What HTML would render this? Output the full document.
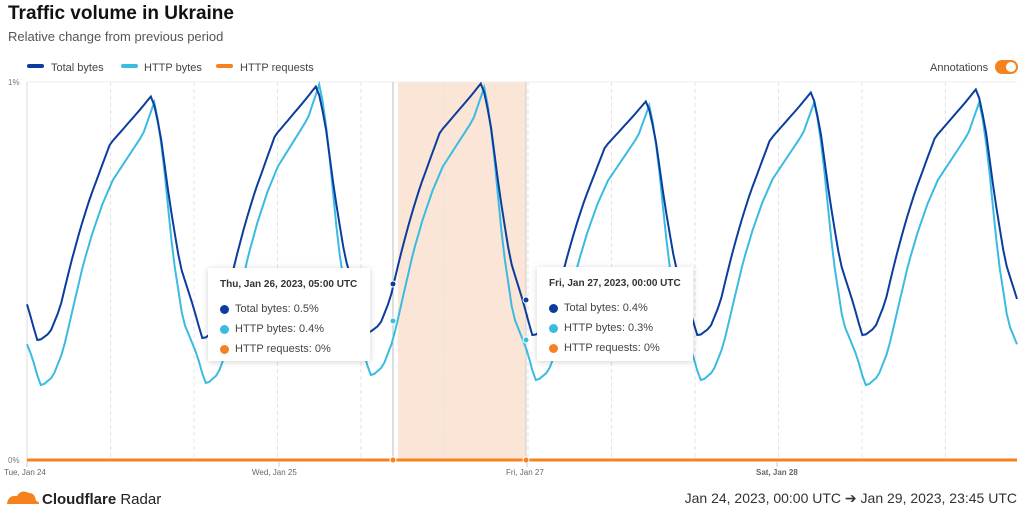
<!DOCTYPE html>
<html><head><meta charset="utf-8"><style>
body{margin:0;width:1024px;height:514px;background:#fff;font-family:"Liberation Sans",sans-serif;overflow:hidden;position:relative}
.t{position:absolute;left:8px;top:3px;font-size:19px;font-weight:bold;color:#111}
.s{position:absolute;left:8px;top:29px;font-size:13px;color:#555}
.tt{position:absolute;background:#fff;box-shadow:0 1px 6px rgba(0,0,0,.18);font-size:11px;color:#444;padding:0 12px}
.tt b{display:block;margin:11px 0 9px;font-size:10px;color:#333}
.tt div{height:20px;display:flex;align-items:center}
.tt i{display:inline-block;width:9px;height:9px;border-radius:50%;margin-right:6px}
</style></head><body>
<div class="t">Traffic volume in Ukraine</div>
<div class="s">Relative change from previous period</div>
<svg width="1024" height="514" style="position:absolute;left:0;top:0" id="s" font-family="Liberation Sans, sans-serif">
<g font-size="11" fill="#444">
<rect x="27" y="64" width="17" height="4" rx="2" fill="#0a3d9e"/><text x="51" y="71">Total bytes</text>
<rect x="121" y="64" width="17" height="4" rx="2" fill="#3bbbe0"/><text x="144" y="71">HTTP bytes</text>
<rect x="216" y="64" width="17" height="4" rx="2" fill="#f6821f"/><text x="240" y="71">HTTP requests</text>
<text x="930" y="71">Annotations</text>
<rect x="995" y="60" width="23" height="14" rx="7" fill="#f6821f"/><circle cx="1011" cy="67" r="5" fill="#fff"/>
</g>
<text x="8" y="85" font-size="8" fill="#777">1%</text>
<text x="8" y="463" font-size="8" fill="#777">0%</text>
<rect x="398" y="82" width="128" height="378" fill="#fbe5d7"/>
<g id="grid" stroke="#e3e3e3" stroke-dasharray="4,3"></g>
<line x1="27" y1="82" x2="1017" y2="82" stroke="#eee"/>
<line x1="27" y1="82" x2="27" y2="462" stroke="#ddd"/>
<line x1="393" y1="82" x2="393" y2="462" stroke="#bbb"/>
<line x1="526" y1="82" x2="526" y2="462" stroke="#ccc"/>
<g id="lines"></g>
<line x1="27" y1="460" x2="1017" y2="460" stroke="#f6821f" stroke-width="3"/>
<circle cx="393" cy="460" r="3" fill="#f6821f" stroke="#fff"/><circle cx="526" cy="460" r="3" fill="#f6821f" stroke="#fff"/>
<g font-size="8" fill="#666"><text x="4" y="475">Tue, Jan 24</text><text x="252" y="475">Wed, Jan 25</text><text x="506" y="475">Fri, Jan 27</text><text x="756" y="475" font-weight="bold">Sat, Jan 28</text></g>
<g stroke="#ccc"><line x1="27" y1="462" x2="27" y2="467"/><line x1="279" y1="462" x2="279" y2="467"/><line x1="527" y1="462" x2="527" y2="467"/><line x1="777" y1="462" x2="777" y2="467"/></g>
<path d="M7 504 q1-9 10-8 q4-7 12-3 q6 0 7 8 q3 0 3 3z" fill="#f6821f"/>
<text x="42" y="504" font-size="15" font-weight="bold" fill="#222">Cloudflare <tspan font-weight="normal">Radar</tspan></text>
<text x="1017" y="503" font-size="14" fill="#333" text-anchor="end">Jan 24, 2023, 00:00 UTC ➔ Jan 29, 2023, 23:45 UTC</text>
</svg>
<div class="tt" style="left:208px;top:268px;width:138px;height:93px"><b>Thu, Jan 26, 2023, 05:00 UTC</b><div><i style="background:#0a3d9e"></i>Total bytes: 0.5%</div><div><i style="background:#3bbbe0"></i>HTTP bytes: 0.4%</div><div><i style="background:#f6821f"></i>HTTP requests: 0%</div></div>
<div class="tt" style="left:537px;top:267px;width:132px;height:94px"><b>Fri, Jan 27, 2023, 00:00 UTC</b><div><i style="background:#0a3d9e"></i>Total bytes: 0.4%</div><div><i style="background:#3bbbe0"></i>HTTP bytes: 0.3%</div><div><i style="background:#f6821f"></i>HTTP requests: 0%</div></div>
<script>
var g=document.getElementById('grid'),h='';
for(var i=1;i<12;i++){var x=27+i*83.5;h+='<line x1="'+x+'" y1="82" x2="'+x+'" y2="460"/>';}
g.innerHTML=h;
var K=[[0,0],[10,.03],[20,.13],[30,.3],[40,.45],[50,.58],[60,.69],[70,.8],[85,.87],[100,.94],[112,1],[120,.85],[130,.55],[140,.3],[154,.12],[162,0],[165,0]];
var KL=[[0,0],[10,.03],[20,.12],[30,.27],[40,.42],[50,.54],[60,.64],[70,.72],[85,.8],[100,.88],[112,1],[120,.8],[130,.45],[140,.22],[154,.1],[162,0],[165,0]];
function f(k,d){for(var i=1;i<k.length;i++)if(d<=k[i][0]){var a=k[i-1],b=k[i];return a[1]+(b[1]-a[1])*(d-a[0])/(b[0]-a[0]);}return 0}
function ser(k,off,pk,tr){var p=[];for(var x=27;x<=1017;x+=3.4375){var r=x-(40+off);var day=Math.floor(r/165);var d=r-day*165;var di=Math.max(0,Math.min(6,day));var di2=Math.max(0,Math.min(6,day+1));var t=tr[di2],P=pk[Math.max(0,Math.min(5,day))];var base=(d<112?tr[di]:t);var y=base-f(k,d)*(base-P);p.push(x.toFixed(1)+','+y.toFixed(1));}return p.join(' ');}
var dk=ser(K,0,[95,85,82,100,91,88],[340,338,332,335,335,335,335]);
var lt=ser(KL,3,[100,82,85,103,100,100],[385,383,375,380,380,385,385]);
document.getElementById('lines').innerHTML='<polyline points="'+lt+'" fill="none" stroke="#3bbbe0" stroke-width="2"/><polyline points="'+dk+'" fill="none" stroke="#0a3d9e" stroke-width="2"/><circle cx="393" cy="284" r="3" fill="#0a3d9e" stroke="#fff"/><circle cx="393" cy="321" r="3" fill="#3bbbe0" stroke="#fff"/><circle cx="526" cy="300" r="3" fill="#0a3d9e" stroke="#fff"/><circle cx="526" cy="340" r="3" fill="#3bbbe0" stroke="#fff"/>';
</script>
</body></html>
